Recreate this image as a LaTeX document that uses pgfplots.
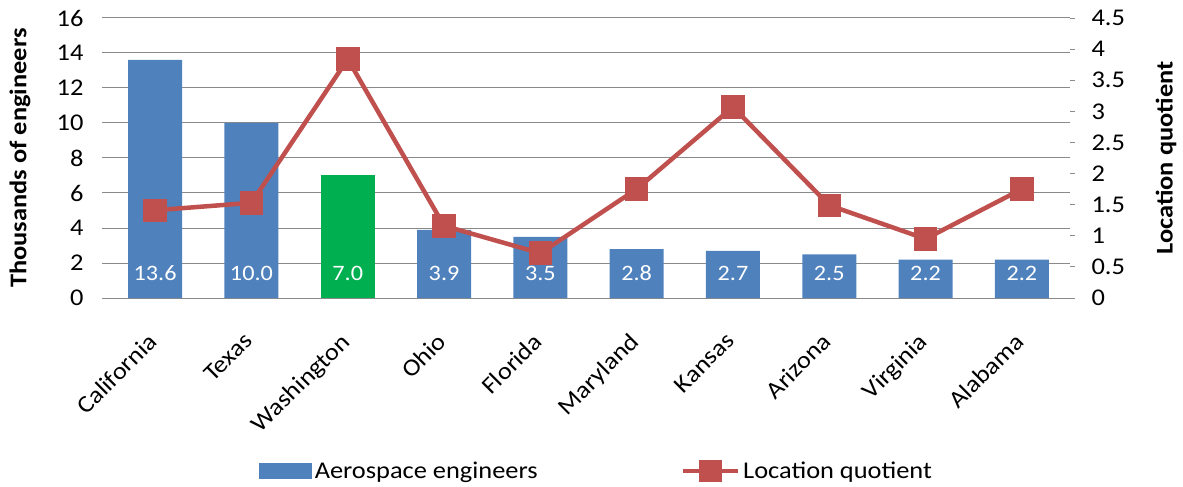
\documentclass[border=0pt]{standalone}
\usepackage{pgfplots}
\pgfplotsset{compat=1.18}
\usepackage{pgfplotstable}
\usepackage{fontspec}
\setmainfont{Carlito}[FakeStretch=1.1]
\definecolor{barblue}{HTML}{4F81BD}
\definecolor{lqred}{HTML}{C0504D}
\definecolor{wagreen}{HTML}{00B050}
\definecolor{gridgray}{HTML}{8A8A8A}

\pgfplotstableread{
x n
0 13.6
1 10.0
3 3.9
4 3.5
5 2.8
6 2.7
7 2.5
8 2.2
9 2.2
}\engineers

\pgfplotstableread{
x n
2 7.0
}\washington

\pgfplotstableread{
x lq
0 1.41
1 1.53
2 3.84
3 1.16
4 0.72
5 1.75
6 3.07
7 1.49
8 0.95
9 1.75
}\quotient

\begin{document}
\begin{tikzpicture}[font=\fontsize{24bp}{28bp}\selectfont]
\useasboundingbox (-107bp,-189bp) rectangle (1076bp,298bp);
\pgfplotsset{
  common/.style={
    at={(0,0)}, anchor=south west,
    scale only axis, width=963bp, height=280bp,
    xmin=-0.5, xmax=9.5,
    /pgf/number format/assume math mode=true,
    tick label style={font=\fontsize{24bp}{28bp}\selectfont},
    axis line style={draw=none},
    tick style={gridgray, line width=1bp},
    major tick length=5bp,
    tick align=outside,
  }
}
\begin{axis}[common,
  ymin=0, ymax=16, ytick distance=2,
  axis y line*=left, axis x line*=bottom,
  xtick={0,...,9},
  xticklabels={California,Texas,Washington,Ohio,Florida,Maryland,Kansas,Arizona,Virginia,Alabama},
  xtick style={draw=none},
  xticklabel style={rotate=45, anchor=north east, inner sep=0pt, yshift=-14bp, xshift=-26bp},
  yticklabel style={xshift=-15bp},
  ymajorgrids, grid style={gridgray, line width=1bp},
  ylabel={Thousands of engineers},
  every axis y label/.style={at={(axis description cs:-0.0903,0.5)}, rotate=90, anchor=center, font=\fontsize{24bp}{28bp}\selectfont\bfseries},
  ybar, bar width=54bp,
]
\pgfplotsset{bar lbl/.style={
  nodes near coords,
  visualization depends on={rawy \as \ry},
  every node near coord/.append style={anchor=center, text=white, yshift={(1.43-\ry)*17.5bp}, font=\fontsize{22bp}{26bp}\selectfont},
  /pgf/number format/fixed, /pgf/number format/fixed zerofill, /pgf/number format/precision=1,
}}
\addplot[bar shift=0pt, fill=barblue, draw=none, bar lbl] table[x=x, y=n] {\engineers};
\addplot[bar shift=0pt, fill=wagreen, draw=none, bar lbl] table[x=x, y=n] {\washington};
\end{axis}
\begin{axis}[common,
  ymin=0, ymax=4.5, ytick distance=0.5,
  axis y line*=right, axis x line=none,
  yticklabel style={xshift=13bp},
  ylabel={Location quotient},
  every axis y label/.style={at={(axis description cs:1.0997,0.5)}, rotate=90, anchor=center, font=\fontsize{24bp}{28bp}\selectfont\bfseries},
  legend columns=2,
  legend style={draw=none, fill=none, at={(axis description cs:0.158,-0.618)}, anchor=west,
    inner sep=0pt, font=\fontsize{24bp}{28bp}\selectfont,
    nodes={inner sep=3bp},
    /tikz/every even column/.append style={column sep=140bp}},
]
\addlegendimage{legend image code/.code={\fill[barblue] (0bp,-7.5bp) rectangle (52bp,7.5bp);}}
\addlegendentry{Aerospace engineers}
\addplot[lqred, line width=4.5bp, mark=square*, mark size=9.5bp, mark options={solid},
  legend image code/.code={\draw[lqred, line width=4.5bp] (0bp,0bp) -- (55bp,0bp); \fill[lqred] (18bp,-9bp) rectangle (37bp,9bp);}]
  table[x=x, y=lq] {\quotient};
\addlegendentry{Location quotient}
\end{axis}
\end{tikzpicture}
\end{document}
